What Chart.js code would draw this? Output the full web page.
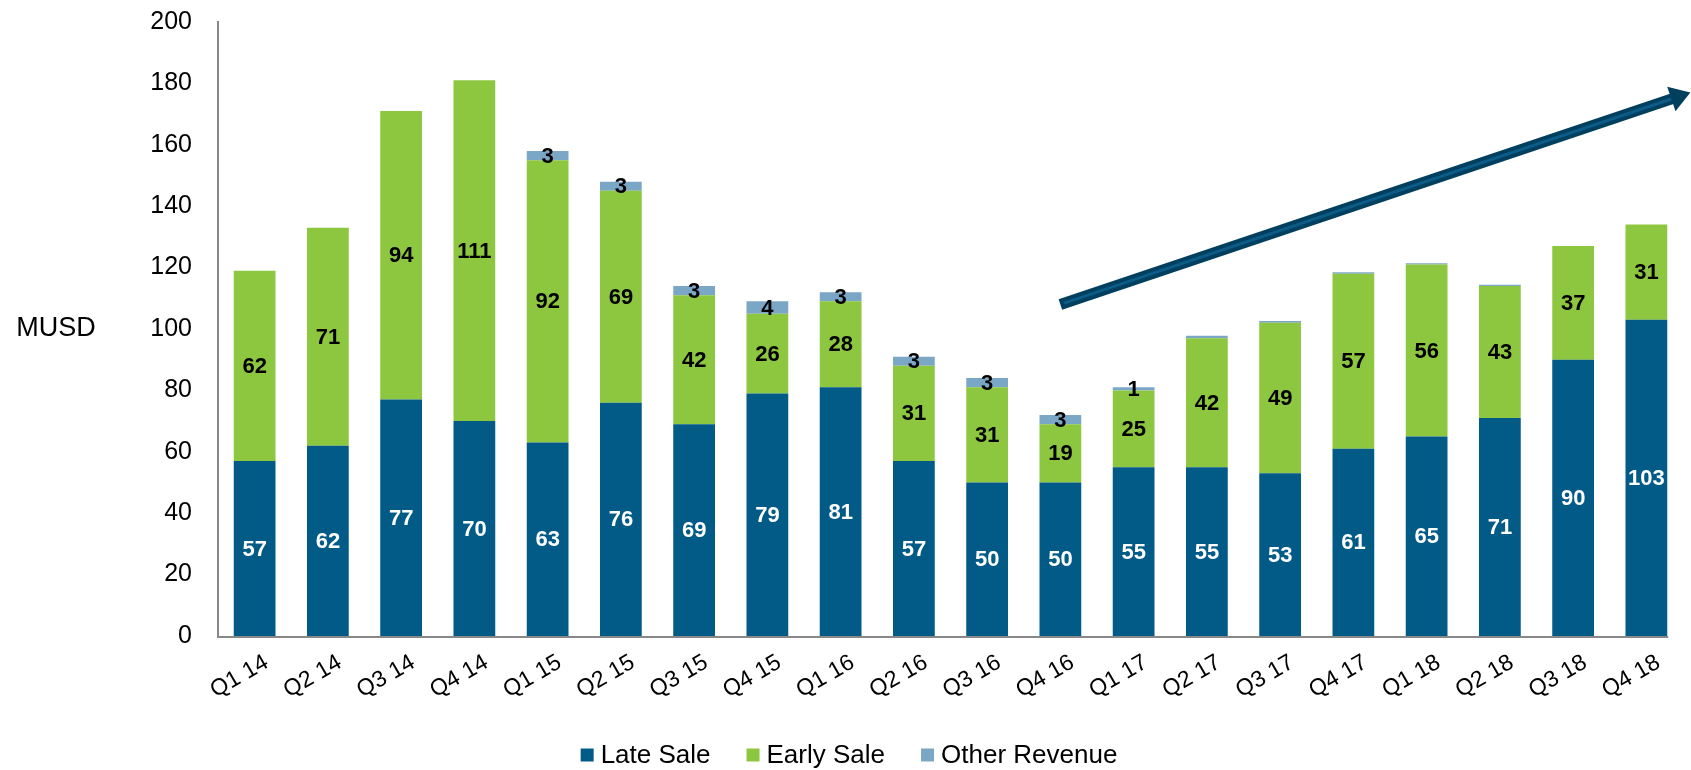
<!DOCTYPE html>
<html>
<head>
<meta charset="utf-8">
<script src="https://cdn.jsdelivr.net/npm/chart.js@4.4.1/dist/chart.umd.min.js"></script>
<style>
  html, body { margin:0; padding:0; background:#fff; }
  #wrap { width:1691px; height:770px; }
</style>
</head>
<body>
<div id="wrap"><canvas id="revChart" width="1691" height="770"></canvas></div>
<script>
// quarters and revenue split (MUSD)
const quarters = ['Q1 14','Q2 14','Q3 14','Q4 14','Q1 15','Q2 15','Q3 15','Q4 15','Q1 16','Q2 16',
                  'Q3 16','Q4 16','Q1 17','Q2 17','Q3 17','Q4 17','Q1 18','Q2 18','Q3 18','Q4 18'];
const lateSale  = [57, 62, 77, 70, 63, 76, 69, 79, 81, 57, 50, 50, 55, 55, 53, 61, 65, 71, 90, 103];
const earlySale = [62, 71, 94, 111, 92, 69, 42, 26, 28, 31, 31, 19, 25, 42, 49, 57, 56, 43, 37, 31];
const otherRev  = [0, 0, 0, 0, 3, 3, 3, 4, 3, 3, 3, 3, 1, 0.8, 0.6, 0.5, 0.4, 0.4, 0, 0];
const yTicks = [0, 20, 40, 60, 80, 100, 120, 140, 160, 180, 200];
// trend arrow, in data units (category index, MUSD)
const arrowFrom = [11.0, 108];
const arrowTo   = [19.6, 177];

const FONT = 'Liberation Sans, Arial, sans-serif';

// labels in the middle of each segment
const segLabels = {
    id: 'segLabels',
    afterDatasetsDraw(chart) {
        const ctx = chart.ctx;
        ctx.save();
        ctx.font = 'bold 22px ' + FONT;
        ctx.textAlign = 'center';
        ctx.textBaseline = 'middle';
        chart.data.datasets.forEach((ds, di) => {
            const meta = chart.getDatasetMeta(di);
            meta.data.forEach((bar, i) => {
                const v = ds.data[i];
                if (v < 1) return;
                ctx.fillStyle = di === 0 ? '#ffffff' : '#000000';
                const y = (bar.y + bar.base) / 2;
                ctx.fillText(String(v), bar.x, y + 1);
            });
        });
        ctx.restore();
    }
};

// x axis line, MUSD title, legend, trend arrow
const extras = {
    id: 'extras',
    afterDraw(chart) {
        const ctx = chart.ctx;
        const xs = chart.scales.x, ys = chart.scales.y;
        const area = chart.chartArea;
        ctx.save();

        // x axis line stops at the last bar's right edge
        const lastBar = chart.getDatasetMeta(0).data[quarters.length - 1];
        ctx.strokeStyle = '#888';
        ctx.lineWidth = 2;
        ctx.beginPath();
        ctx.moveTo(area.left - 1, area.bottom + 1);
        ctx.lineTo(lastBar.x + lastBar.width / 2 + 1, area.bottom + 1);
        ctx.stroke();

        ctx.font = '27px ' + FONT;
        ctx.fillStyle = '#000';
        ctx.textAlign = 'center';
        ctx.textBaseline = 'middle';
        ctx.fillText('MUSD', 56, ys.getPixelForValue(100));

        // legend
        ctx.font = '26px ' + FONT;
        ctx.textAlign = 'left';
        const box = 13, gapBox = 7, gapItem = 36;
        const items = chart.data.datasets.map(d => ({ t: d.label, c: d.backgroundColor, w: ctx.measureText(d.label).width }));
        const total = items.reduce((s, it) => s + box + gapBox + it.w, 0) + gapItem * (items.length - 1);
        let lx = 849 - total / 2;
        const ly = 755;
        items.forEach(it => {
            ctx.fillStyle = it.c;
            ctx.fillRect(lx, ly - box / 2, box, box);
            ctx.fillStyle = '#000';
            ctx.fillText(it.t, lx + box + gapBox, ly + 1);
            lx += box + gapBox + it.w + gapItem;
        });

        // trend arrow
        const x0 = xs.getPixelForValue(arrowFrom[0]), y0 = ys.getPixelForValue(arrowFrom[1]);
        const x1 = xs.getPixelForValue(arrowTo[0]),   y1 = ys.getPixelForValue(arrowTo[1]);
        const ang = Math.atan2(y1 - y0, x1 - x0);
        const head = 20;
        const bx = x1 - head * Math.cos(ang), by = y1 - head * Math.sin(ang);
        ctx.lineCap = 'butt';
        ctx.strokeStyle = '#003F5E';
        ctx.lineWidth = 11;
        ctx.beginPath(); ctx.moveTo(x0, y0); ctx.lineTo(bx + 2*Math.cos(ang), by + 2*Math.sin(ang)); ctx.stroke();
        ctx.strokeStyle = '#0B5C88';
        ctx.lineWidth = 3;
        ctx.beginPath(); ctx.moveTo(x0 + 4*Math.cos(ang), y0 + 4*Math.sin(ang)); ctx.lineTo(bx, by); ctx.stroke();
        ctx.fillStyle = '#003F5E';
        ctx.beginPath();
        ctx.moveTo(x1, y1);
        ctx.lineTo(bx + 13*Math.sin(ang), by - 13*Math.cos(ang));
        ctx.lineTo(bx - 13*Math.sin(ang), by + 13*Math.cos(ang));
        ctx.closePath();
        ctx.fill();
        ctx.restore();
    }
};

new Chart(document.getElementById('revChart'), {
    type: 'bar',
    data: {
        labels: quarters,
        datasets: [
            { label: 'Late Sale', data: lateSale, backgroundColor: '#025A87' },
            { label: 'Early Sale', data: earlySale, backgroundColor: '#8DC63F' },
            { label: 'Other Revenue', data: otherRev, backgroundColor: '#7BA7C7' }
        ]
    },
    options: {
        responsive: false,
        animation: false,
        layout: { padding: { top: 22, right: 8, left: 0, bottom: 0 } },
        datasets: { bar: { barPercentage: 0.57, categoryPercentage: 1.0 } },
        plugins: {
            tooltip: { enabled: false },
            legend: { display: false }
        },
        scales: {
            x: {
                stacked: true,
                grid: { display: false, drawTicks: false },
                border: { display: false },
                ticks: {
                    font: { family: FONT, size: 23 }, color: '#000',
                    maxRotation: 30, minRotation: 30, padding: 13, labelOffset: 12, autoSkip: false
                },
                afterFit(scale) { scale.height = 134; scale.paddingTop = 0; }
            },
            y: {
                stacked: true,
                min: 0, max: 200,
                afterBuildTicks(scale) { scale.ticks = yTicks.map(v => ({ value: v })); },
                grid: { display: false, drawTicks: false },
                border: { color: '#888', width: 2 },
                ticks: { font: { family: FONT, size: 25 }, color: '#000', padding: 26 },
                afterFit(scale) { scale.width = 218; scale.paddingTop = 0; scale.paddingBottom = 0; }
            }
        }
    },
    plugins: [segLabels, extras]
});
</script>
</body>
</html>
